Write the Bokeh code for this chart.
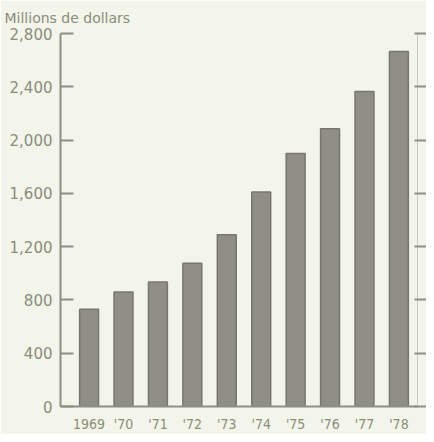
from bokeh.plotting import figure
from bokeh.models import (Range1d, FixedTicker, LinearAxis, NumeralTickFormatter)
from bokeh.embed import file_html
from bokeh.resources import INLINE

years = ["1969", "'70", "'71", "'72", "'73", "'74", "'75", "'76", "'77", "'78"]
values = [730, 860, 935, 1075, 1290, 1610, 1900, 2085, 2365, 2665]
y_ticks = [0, 400, 800, 1200, 1600, 2000, 2400, 2800]
title_text = "Millions de dollars"

BG = "#f3f4ea"
AX = "#8e8f84"
TXT = "#8a8d7a"

xs = list(range(len(years)))

p = figure(width=426, height=434, output_backend="svg", toolbar_location=None,
           x_range=Range1d(-0.83, 9.54), y_range=Range1d(0, 2800),
           min_border_left=60, min_border_right=9, min_border_top=33,
           min_border_bottom=19)
p.background_fill_color = BG
p.border_fill_color = BG
p.outline_line_color = None
p.xgrid.grid_line_color = None
p.ygrid.grid_line_color = None

p.title.text = title_text
p.title.align = "left"
p.title.vertical_align = "top"
p.title.offset = -56
p.title.standoff = 12
p.title.text_font = "DejaVu Sans"
p.title.text_font_size = "14px"
p.title.text_font_style = "normal"
p.title.text_color = TXT

p.vbar(x=xs, top=values, bottom=0, width=0.55,
       fill_color="#8f8f86", line_color="#77776f", line_width=1.5)

# left axis
ya = p.yaxis[0]
ya.ticker = FixedTicker(ticks=y_ticks)
ya.formatter = NumeralTickFormatter(format="0,0")
ya.axis_line_color = AX
ya.axis_line_width = 2
ya.major_tick_line_color = AX
ya.major_tick_line_width = 2
ya.major_tick_in = 13
ya.major_tick_out = 0
ya.minor_tick_line_color = None
ya.major_label_standoff = 8
ya.major_label_text_font = "DejaVu Sans"
ya.major_label_text_font_size = "15px"
ya.major_label_text_color = TXT

# bottom axis
xa = p.xaxis[0]
xa.ticker = FixedTicker(ticks=xs)
xa.major_label_overrides = {i: y for i, y in enumerate(years)}
xa.axis_line_color = AX
xa.axis_line_width = 2
xa.major_tick_line_color = None
xa.minor_tick_line_color = None
xa.major_label_standoff = 3
xa.major_label_text_font = "DejaVu Sans Condensed"
xa.major_label_text_font_size = "14px"
xa.major_label_text_color = TXT

# right axis (ticks only)
ra = LinearAxis(ticker=FixedTicker(ticks=y_ticks),
                major_label_overrides={t: "" for t in y_ticks},
                major_label_standoff=0, axis_line_color="#c9cabd", axis_line_width=1,
                major_tick_line_color=AX, major_tick_line_width=2,
                major_tick_in=3, major_tick_out=9, minor_tick_line_color=None)
p.add_layout(ra, "right")

open("out.html", "w").write(file_html(p, INLINE))
